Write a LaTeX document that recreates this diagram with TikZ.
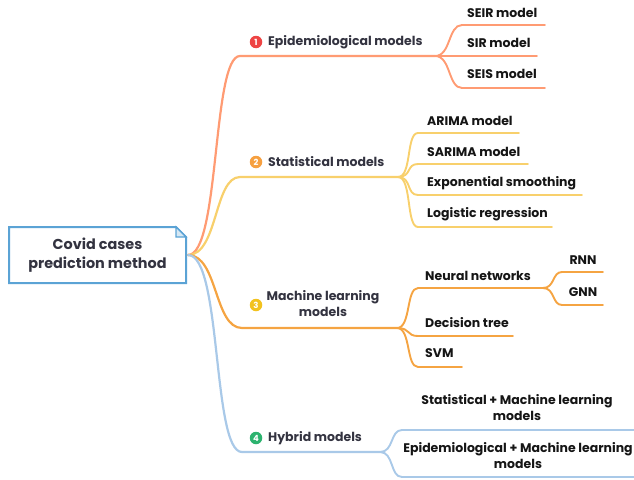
\documentclass[tikz,border=0pt]{standalone}
\usepackage{fontspec}
\setmainfont{Poppins}
\usetikzlibrary{calc}
\definecolor{cA}{HTML}{FF9B73}
\definecolor{cB}{HTML}{F8D06C}
\definecolor{cC}{HTML}{F5A442}
\definecolor{cD}{HTML}{A9C9E8}
\definecolor{rootc}{HTML}{5BA3D5}
\definecolor{txt}{HTML}{333340}
\definecolor{leaf}{HTML}{151515}
\definecolor{iA}{HTML}{EE4444}
\definecolor{iB}{HTML}{F6A040}
\definecolor{iC}{HTML}{F2C21E}
\definecolor{iD}{HTML}{2DB36F}
\begin{document}
\begin{tikzpicture}[x=1pt,y=-1pt,
  lbl/.style={font=\bfseries\fontsize{12.5}{16}\selectfont, text=txt, inner sep=0pt, anchor=west},
  lf/.style={font=\bfseries\fontsize{12.5}{16}\selectfont, text=leaf, inner sep=0pt, anchor=west},
  lfc/.style={font=\bfseries\fontsize{12.5}{16}\selectfont, text=leaf, inner sep=0pt, align=center},
  icon/.style={circle, inner sep=0pt, minimum size=12.5pt, text=white, font=\bfseries\fontsize{8.5}{8.5}\selectfont},
  br/.style={line width=2.2pt, line cap=round},
  ch/.style={line width=1.9pt, line cap=round}]
\useasboundingbox (0,0) rectangle (634,479);

% root
\node[minimum width=177pt, minimum height=56pt, inner sep=0pt, outer sep=0pt,
  font=\bfseries\fontsize{14.4}{18.5}\selectfont, text=txt, align=center] (root) at (97.5,255) {Covid cases\\prediction method};
\draw[rootc, line width=2pt, line join=miter]
  (root.north west) -- ($(root.north east)+(-10,0)$) -- ($(root.north east)+(0,10)$)
  -- (root.south east) -- (root.south west) -- cycle;
\draw[rootc, line width=1.2pt, fill=rootc!25]
  ($(root.north east)+(-10,0)$) -- ($(root.north east)+(-10,10)$) -- ($(root.north east)+(0,10)$) -- cycle;
\coordinate (r) at ($(root.east)+(2,0)$);

% ---------- branch 1 ----------
\coordinate (b1s) at (240,56);
\coordinate (b1e) at (435,56);
\draw[br, cA] (r) .. controls +(32,0) and +(-28,0) .. (b1s) -- (b1e);
\node[icon, fill=iA] (i1) at (256,42) {1};
\node[lbl] (l1) at (268,42) {Epidemiological models};
\coordinate (seirS) at (462,25); \coordinate (seirE) at (545,25);
\coordinate (sirE) at (537,56);
\coordinate (seisS) at (462,88); \coordinate (seisE) at (545,88);
\draw[ch, cA] (b1e) .. controls +(16,0) and +(-14,0) .. (seirS) -- (seirE);
\draw[ch, cA] (b1e) -- (sirE);
\draw[ch, cA] (b1e) .. controls +(16,0) and +(-14,0) .. (seisS) -- (seisE);
\node[lf] (seir) at (467,13) {SEIR model};
\node[lf] (sir) at (467,43) {SIR model};
\node[lf] (seis) at (467,74) {SEIS model};

% ---------- branch 2 ----------
\coordinate (b2s) at (240,177);
\coordinate (b2e) at (398,177);
\draw[br, cB] (r) .. controls +(30,0) and +(-26,0) .. (b2s) -- (b2e);
\node[icon, fill=iB] (i2) at (256,162) {2};
\node[lbl] (l2) at (268,162) {Statistical models};
\coordinate (arS) at (418,133); \coordinate (arE) at (519,133);
\coordinate (saS) at (418,164); \coordinate (saE) at (528,164);
\coordinate (exS) at (418,195); \coordinate (exE) at (582,195);
\coordinate (loS) at (418,227); \coordinate (loE) at (552,227);
\draw[ch, cB] (b2e) .. controls +(14,0) and +(-12,0) .. (arS) -- (arE);
\draw[ch, cB] (b2e) .. controls +(14,0) and +(-12,0) .. (saS) -- (saE);
\draw[ch, cB] (b2e) .. controls +(14,0) and +(-12,0) .. (exS) -- (exE);
\draw[ch, cB] (b2e) .. controls +(14,0) and +(-12,0) .. (loS) -- (loE);
\node[lf] (ar) at (427,121) {ARIMA model};
\node[lf] (sa) at (427,152) {SARIMA model};
\node[lf] (ex) at (427,183) {Exponential smoothing};
\node[lf] (lo) at (427,214) {Logistic regression};

% ---------- branch 3 ----------
\coordinate (b3s) at (242,328);
\coordinate (b3e) at (397,328);
\draw[br, cC] (r) .. controls +(30,0) and +(-28,0) .. (b3s) -- (b3e);
\node[icon, fill=iC] (i3) at (256,305) {3};
\node[lbl, anchor=center, align=center, font=\bfseries\fontsize{12.5}{16}\selectfont] (l3) at (323,304) {Machine learning\\models};
\coordinate (nnS) at (418,288); \coordinate (nnE) at (543,288);
\coordinate (dtS) at (418,336); \coordinate (dtE) at (513,336);
\coordinate (svS) at (418,367); \coordinate (svE) at (462,367);
\draw[ch, cC] (b3e) .. controls +(14,0) and +(-12,0) .. (nnS) -- (nnE);
\draw[ch, cC] (b3e) .. controls +(14,0) and +(-12,0) .. (dtS) -- (dtE);
\draw[ch, cC] (b3e) .. controls +(14,0) and +(-12,0) .. (svS) -- (svE);
\node[lf] (nn) at (425,276) {Neural networks};
\node[lf] (dt) at (425,323) {Decision tree};
\node[lf] (sv) at (425,353) {SVM};
\coordinate (rnS) at (562,272); \coordinate (rnE) at (603,272);
\coordinate (gnS) at (562,305); \coordinate (gnE) at (603,305);
\draw[ch, cC] (nnE) .. controls +(12,0) and +(-10,0) .. (rnS) -- (rnE);
\draw[ch, cC] (nnE) .. controls +(12,0) and +(-10,0) .. (gnS) -- (gnE);
\node[lfc] (rn) at (583,260) {RNN};
\node[lfc] (gn) at (583,292) {GNN};

% ---------- branch 4 ----------
\coordinate (b4s) at (242,452);
\coordinate (b4e) at (380,452);
\draw[br, cD] (r) .. controls +(34,0) and +(-30,0) .. (b4s) -- (b4e);
\node[icon, fill=iD] (i4) at (256,438) {4};
\node[lbl] (l4) at (268,438) {Hybrid models};
\coordinate (h1S) at (402,430); \coordinate (h1E) at (636,430);
\coordinate (h2S) at (402,477); \coordinate (h2E) at (636,477);
\draw[ch, cD] (b4e) .. controls +(14,0) and +(-12,0) .. (h1S) -- (h1E);
\draw[ch, cD] (b4e) .. controls +(14,0) and +(-12,0) .. (h2S) -- (h2E);
\node[lfc] (h1) at (517,408) {Statistical + Machine learning\\models};
\node[lfc] (h2) at (518,456) {Epidemiological + Machine learning\\models};
\end{tikzpicture}
\end{document}
